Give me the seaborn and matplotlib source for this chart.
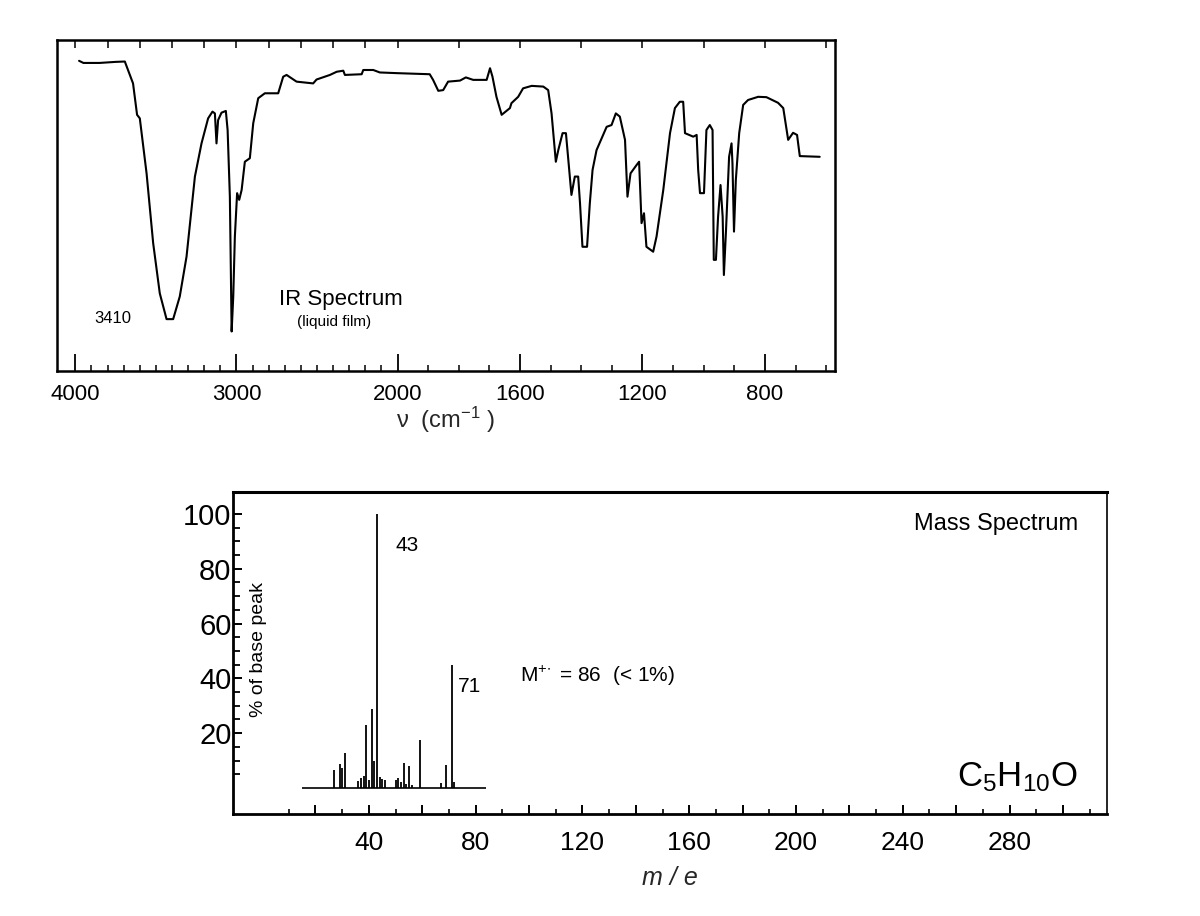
import seaborn as sns
import matplotlib.pyplot as plt
import numpy as np
import pandas as pd

# ---- IR spectrum (liquid film) ----
ir_wavenumber = [3977, 3950, 3850, 3750, 3693, 3642, 3617, 3600, 3558, 3517, 3476, 3434,
                 3393, 3352, 3310, 3258, 3217, 3176, 3149, 3134, 3124, 3114, 3093, 3066,
                 3055, 3041, 3030, 3020, 3010, 2996, 2983, 2968, 2948, 2917, 2896, 2865,
                 2824, 2741, 2710, 2689, 2627, 2524, 2503, 2420, 2378, 2337, 2327, 2223,
                 2213, 2151, 2110, 2000, 1895, 1884, 1867, 1851, 1835, 1796, 1777, 1753,
                 1709, 1698, 1690, 1677, 1660, 1633, 1628, 1606, 1590, 1562, 1524, 1508,
                 1497, 1483, 1475, 1461, 1450, 1443, 1432, 1421, 1410, 1404, 1396, 1381,
                 1372, 1363, 1350, 1317, 1301, 1287, 1274, 1257, 1249, 1239, 1219, 1211,
                 1203, 1195, 1187, 1165, 1154, 1132, 1110, 1094, 1078, 1067, 1061, 1034,
                 1023, 1018, 1012, 999, 991, 980, 971, 967, 960, 953, 945, 938,
                 934, 927, 917, 909, 906, 901, 895, 884, 871, 855, 822, 795,
                 757, 740, 724, 708, 695, 686, 621]
ir_transmittance = [94.1, 93.5, 93.5, 93.8, 93.9, 87.7, 78.8, 77.8, 62.2, 42.4, 28.2, 20.9,
                    20.9, 27.3, 38.6, 61.3, 70.7, 77.8, 79.7, 79.2, 70.7, 77.3, 79.4, 79.9,
                    74.5, 55.6, 17.4, 27.3, 44.3, 56.6, 54.7, 57.5, 65.5, 66.5, 76.4, 83.5,
                    84.9, 84.9, 89.6, 90.1, 88.2, 87.7, 88.8, 90.1, 91.0, 91.3, 90.1, 90.3,
                    91.5, 91.5, 90.8, 90.6, 90.3, 88.7, 85.6, 85.8, 88.2, 88.5, 89.4, 88.7,
                    88.7, 92.0, 89.6, 83.9, 78.8, 80.7, 82.1, 83.9, 86.3, 87.0, 86.8, 85.8,
                    79.2, 65.5, 68.8, 73.6, 73.6, 66.9, 56.1, 61.3, 61.3, 53.7, 41.4, 41.4,
                    53.7, 63.2, 68.8, 75.4, 75.9, 79.2, 78.3, 71.7, 55.6, 62.2, 64.6, 65.5,
                    48.1, 50.9, 41.4, 40.0, 44.3, 57.5, 73.6, 80.7, 82.5, 82.5, 73.6, 72.6,
                    73.1, 63.2, 56.6, 56.6, 74.5, 75.9, 74.5, 37.7, 37.7, 49.9, 58.9, 49.9,
                    33.4, 46.2, 66.9, 70.7, 65.1, 45.7, 60.3, 73.6, 81.6, 83.0, 83.9, 83.8,
                    82.2, 80.7, 71.7, 73.7, 73.1, 67.1, 66.9]
ir_ticks = [4000, 3000, 2000, 1600, 1200, 800]

# ---- Mass spectrum ----
ms_mz = [27, 29, 30, 31, 36, 37, 38, 39, 40, 41, 42, 43, 44, 45, 46,
         50, 51, 52, 53, 54, 55, 56, 59, 67, 69, 71, 72]
ms_intensity = [6.6, 8.6, 7.2, 12.8, 2.6, 3.8, 4.3, 23.0, 3.0, 28.8, 10.0, 100.0, 4.0, 3.2, 3.0,
                3.0, 3.6, 2.0, 9.2, 1.6, 8.0, 1.2, 17.4, 1.8, 8.4, 45.0, 2.0]
ms_baseline = [15, 84]
ms_xlabels = [40, 80, 120, 160, 200, 240, 280]
ms_yticks = [20, 40, 60, 80, 100]

sns.set_theme(style='white')
plt.rcParams['font.family'] = ['Liberation Sans', 'DejaVu Sans']
plt.rcParams['mathtext.fontset'] = 'custom'
plt.rcParams['mathtext.rm'] = 'Liberation Sans'
plt.rcParams['mathtext.it'] = 'Liberation Sans:italic'
plt.rcParams['axes.edgecolor'] = 'black'
plt.rcParams['text.color'] = 'black'
plt.rcParams['xtick.color'] = 'black'
plt.rcParams['ytick.color'] = 'black'


# wavenumber axis: below 2000 cm-1 the scale is stretched ~1.9x
def ir_fwd(x):
    x = np.asarray(x, dtype=float)
    return np.where(x >= 2000, x - 2000, 1.9 * (x - 2000))


def ir_inv(u):
    u = np.asarray(u, dtype=float)
    return np.where(u >= 0, u + 2000, u / 1.9 + 2000)


fig = plt.figure(figsize=(12, 9.16), dpi=100)

# ================= IR =================
ax1 = fig.add_axes([57 / 1200, 1 - 371 / 916, 778 / 1200, 331 / 916])
ir_df = pd.DataFrame({'nu': ir_wavenumber, 'T': ir_transmittance})
sns.lineplot(data=ir_df, x='nu', y='T', sort=False, color='black', lw=1.5, ax=ax1)
ax1.set_xscale('function', functions=(ir_fwd, ir_inv))
ax1.set_xlim(4114, 571)
ax1.set_ylim(6.2, 100)
ax1.set_xticks(ir_ticks)
ax1.set_xticklabels([str(t) for t in ir_ticks])
ax1.set_xticks(np.arange(600, 4100, 100), minor=True)
ax1.set_yticks([])
ax1.tick_params(axis='x', which='major', direction='in', length=12, width=1.3,
                labelsize=16, pad=9, bottom=True)
ax1.tick_params(axis='x', which='minor', direction='in', length=4.5, width=1.1, bottom=True)
# small marks along the top edge every 200 cm-1
ax1.vlines(np.arange(600, 4001, 200), 0.975, 1.0, transform=ax1.get_xaxis_transform(),
           color='black', lw=1.1, clip_on=False)
ax1.set_xlabel(r'ν  (cm$^{-1}$ )', fontsize=17, labelpad=0)
ax1.set_ylabel('')
for s in ax1.spines.values():
    s.set_linewidth(1.8)
ax1.text(0.072, 0.16, '3410', transform=ax1.transAxes, ha='center', va='center', fontsize=12)
ax1.text(0.365, 0.215, 'IR Spectrum', transform=ax1.transAxes, ha='center', va='center',
         fontsize=16)
ax1.text(0.356, 0.148, '(liquid film)', transform=ax1.transAxes, ha='center', va='center',
         fontsize=11)

# ================= MS =================
ax2 = fig.add_axes([233 / 1200, 1 - 814 / 916, 874 / 1200, 322 / 916])
ax2.vlines(ms_mz, 0, ms_intensity, color='black', lw=1.3)
ax2.hlines(0, ms_baseline[0], ms_baseline[1], color='black', lw=1.2)
ax2.set_xlim(-10.9, 316.5)
ax2.set_ylim(-9.5, 108)
ax2.set_xticks(np.arange(20, 301, 20))
ax2.set_xticklabels([str(t) if t in ms_xlabels else '' for t in np.arange(20, 301, 20)])
ax2.set_xticks(np.arange(10, 311, 10), minor=True)
ax2.set_yticks(ms_yticks)
ax2.set_yticks(np.arange(5, 100, 5), minor=True)
ax2.tick_params(axis='x', which='major', direction='in', length=6.5, width=1.4,
                labelsize=19, pad=12, bottom=True)
ax2.tick_params(axis='x', which='minor', direction='in', length=3.8, width=1.2, bottom=True)
ax2.tick_params(axis='y', which='major', direction='in', length=6.5, width=1.4,
                labelsize=21, pad=1, left=True)
ax2.tick_params(axis='y', which='minor', direction='in', length=5, width=1.3, left=True)
ax2.set_xlabel('m / e', fontsize=18, style='italic', labelpad=8)
ax2.spines['left'].set_linewidth(2.0)
ax2.spines['bottom'].set_linewidth(2.0)
ax2.spines['top'].set_linewidth(2.2)
ax2.spines['right'].set_linewidth(1.2)

ax2.text(0.029, 0.51, '% of base peak', transform=ax2.transAxes, rotation=90,
         ha='center', va='center', fontsize=14)
ax2.text(50, 88.5, '43', ha='left', va='center', fontsize=15)
ax2.text(73.4, 37, '71', ha='left', va='center', fontsize=15)
ax2.text(96.7, 41, r'M$^{+\!\bullet}$ = 86  (< 1%)', ha='left', va='center', fontsize=15)
ax2.text(0.967, 0.9, 'Mass Spectrum', transform=ax2.transAxes, ha='right', va='center',
         fontsize=17)
ax2.text(0.967, 0.115, r'C$_5$H$_{10}$O', transform=ax2.transAxes, ha='right', va='center',
         fontsize=25)

fig.savefig('out.png', dpi=100)
